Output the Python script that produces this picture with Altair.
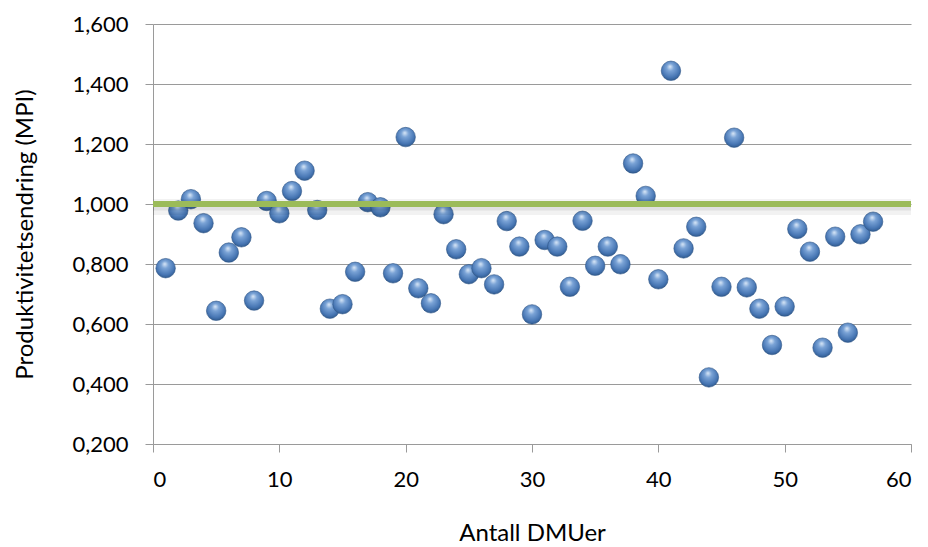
import altair as alt
import pandas as pd

dmu = list(range(1, 58))
mpi = [0.786, 0.978, 1.016, 0.936, 0.644, 0.838, 0.889, 0.678, 1.010, 0.969,
       1.043, 1.111, 0.980, 0.651, 0.666, 0.774, 1.006, 0.989, 0.769, 1.223,
       0.719, 0.669, 0.966, 0.849, 0.766, 0.786, 0.732, 0.943, 0.858, 0.632,
       0.880, 0.858, 0.724, 0.944, 0.794, 0.858, 0.799, 1.135, 1.027, 0.749,
       1.444, 0.852, 0.924, 0.422, 0.724, 1.221, 0.722, 0.651, 0.530, 0.658,
       0.917, 0.841, 0.521, 0.891, 0.571, 0.899, 0.941]
ref_x = [0]
ref_x2 = [60]
ref_y = [1.0]
x_ticks = [0, 10, 20, 30, 40, 50, 60]
y_ticks = [0.2, 0.4, 0.6, 0.8, 1.0, 1.2, 1.4, 1.6]

df = pd.DataFrame({"dmu": dmu, "mpi": mpi})
ref = pd.DataFrame({"x": ref_x, "x2": ref_x2, "y": ref_y})

FONT = "Lato"
GRID = "#9a9a9a"

xscale = alt.Scale(domain=[0, 60], nice=False, zero=False)
yscale = alt.Scale(domain=[0.2, 1.6], nice=False, zero=False)

xaxis = alt.Axis(values=x_ticks, title="Antall DMUer", grid=False,
                 domainColor=GRID, tickColor=GRID, tickSize=8, labelPadding=17,
                 labelFont=FONT, labelFontSize=22, labelColor="#000000",
                 titleFont=FONT, titleFontSize=24, titleFontWeight="normal",
                 titleColor="#000000", titleY=96, titleBaseline="alphabetic")
yaxis = alt.Axis(values=y_ticks, title="Produktivitetsendring (MPI)",
                 labelExpr="replace(format(datum.value, '.3f'), '.', ',')",
                 grid=True, gridColor=GRID, gridWidth=1,
                 domainColor=GRID, tickColor=GRID, tickSize=8, labelPadding=17,
                 labelFont=FONT, labelFontSize=22, labelColor="#000000",
                 titleFont=FONT, titleFontSize=24, titleFontWeight="normal",
                 titleColor="#000000", titleX=-121, titleY=210, titleAngle=-90,
                 titleAlign="center", titleBaseline="alphabetic")

sphere = alt.RadialGradient(
    gradient="radial",
    stops=[alt.GradientStop(offset=0, color="#dce9f8"),
           alt.GradientStop(offset=0.3, color="#7aa3d6"),
           alt.GradientStop(offset=0.75, color="#4675b3"),
           alt.GradientStop(offset=1, color="#2b5485")],
    x1=0.45, y1=0.28, r1=0, x2=0.5, y2=0.42, r2=0.62,
)

points = alt.Chart(df).mark_point(
    filled=True, shape="circle", size=380, fill=sphere, opacity=1,
    stroke="#2f5687", strokeWidth=0.6,
).encode(
    x=alt.X("dmu:Q", scale=xscale, axis=xaxis),
    y=alt.Y("mpi:Q", scale=yscale, axis=yaxis),
)

shadow = alt.Chart(ref).mark_rule(
    color="#000000", strokeWidth=16, opacity=0.05, yOffset=3,
).encode(x=alt.X("x:Q", scale=xscale), x2="x2:Q", y=alt.Y("y:Q", scale=yscale))

shadow2 = alt.Chart(ref).mark_rule(
    color="#000000", strokeWidth=9, opacity=0.07, yOffset=2,
).encode(x=alt.X("x:Q", scale=xscale), x2="x2:Q", y=alt.Y("y:Q", scale=yscale))

line = alt.Chart(ref).mark_rule(
    color="#9bbb59", strokeWidth=6,
).encode(x=alt.X("x:Q", scale=xscale), x2="x2:Q", y=alt.Y("y:Q", scale=yscale))

chart = alt.layer(points, shadow, shadow2, line).properties(
    width=758, height=420,
    autosize=alt.AutoSizeParams(type="none"),
    padding={"left": 153, "top": 24, "right": 17, "bottom": 103},
    background="#ffffff",
).configure_view(stroke=None)

chart.save("out.html", embed_options={"renderer": "svg", "actions": False})
